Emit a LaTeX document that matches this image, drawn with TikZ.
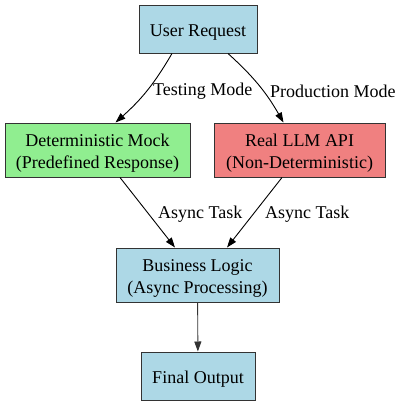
\documentclass[tikz,border=0pt]{standalone}
\usepackage{fontspec}
\setmainfont{Liberation Serif}
\usepackage{tikz}
\usetikzlibrary{arrows.meta}
\newcommand{\boxtext}[1]{\raisebox{-3pt}[\height][\depth]{\begin{tabular}{@{}c@{}}#1\end{tabular}}}

\begin{document}
\begin{tikzpicture}[x=1pt,y=-1pt,
  box/.style={draw=black!80,line width=1pt,font=\fontsize{18}{22}\selectfont,align=center,inner sep=0pt},
  flow/.style={line width=0.9pt,-{Triangle[length=10pt,width=7pt]}},
  lbl/.style={font=\fontsize{18}{22}\selectfont,inner sep=0pt,anchor=west}]
\useasboundingbox (0,0) rectangle (401,405);
% boxes
\node[box,fill={rgb,255:red,173;green,216;blue,230},minimum width=118pt,minimum height=48pt] (request) at (198,29) {\boxtext{User Request}};
\node[box,fill={rgb,255:red,144;green,238;blue,144},minimum width=185pt,minimum height=54pt] (mock) at (97.5,150) {\boxtext{Deterministic Mock\\(Predefined Response)}};
\node[box,fill={rgb,255:red,240;green,128;blue,128},minimum width=171pt,minimum height=54pt] (llm) at (299.5,150) {\boxtext{Real LLM API\\(Non-Deterministic)}};
\node[box,fill={rgb,255:red,173;green,216;blue,230},minimum width=163pt,minimum height=54pt] (logic) at (197.5,275) {\boxtext{Business Logic\\(Async Processing)}};
\node[box,fill={rgb,255:red,173;green,216;blue,230},minimum width=114pt,minimum height=48pt] (output) at (198,376) {\boxtext{Final Output}};
% edges
\draw[flow] ([xshift=-26pt]request.south) to[bend left=9] ([xshift=18pt]mock.north);
\draw[flow] ([xshift=30pt]request.south) to[bend left=9] ([xshift=-16pt]llm.north);
\draw[flow] ([xshift=22.5pt]mock.south) to ([xshift=-22.5pt]logic.north);
\draw[flow] ([xshift=-17.5pt]llm.south) to ([xshift=29.5pt]logic.north);
\draw[flow,draw=black!80] (logic) to (output);
% labels
\node[lbl] (testing) at (153,91) {Testing Mode};
\node[lbl] (production) at (270,91) {Production Mode};
\node[lbl] (asyncl) at (158,214) {Async Task};
\node[lbl] (asyncr) at (265,214) {Async Task};
\end{tikzpicture}
\end{document}
